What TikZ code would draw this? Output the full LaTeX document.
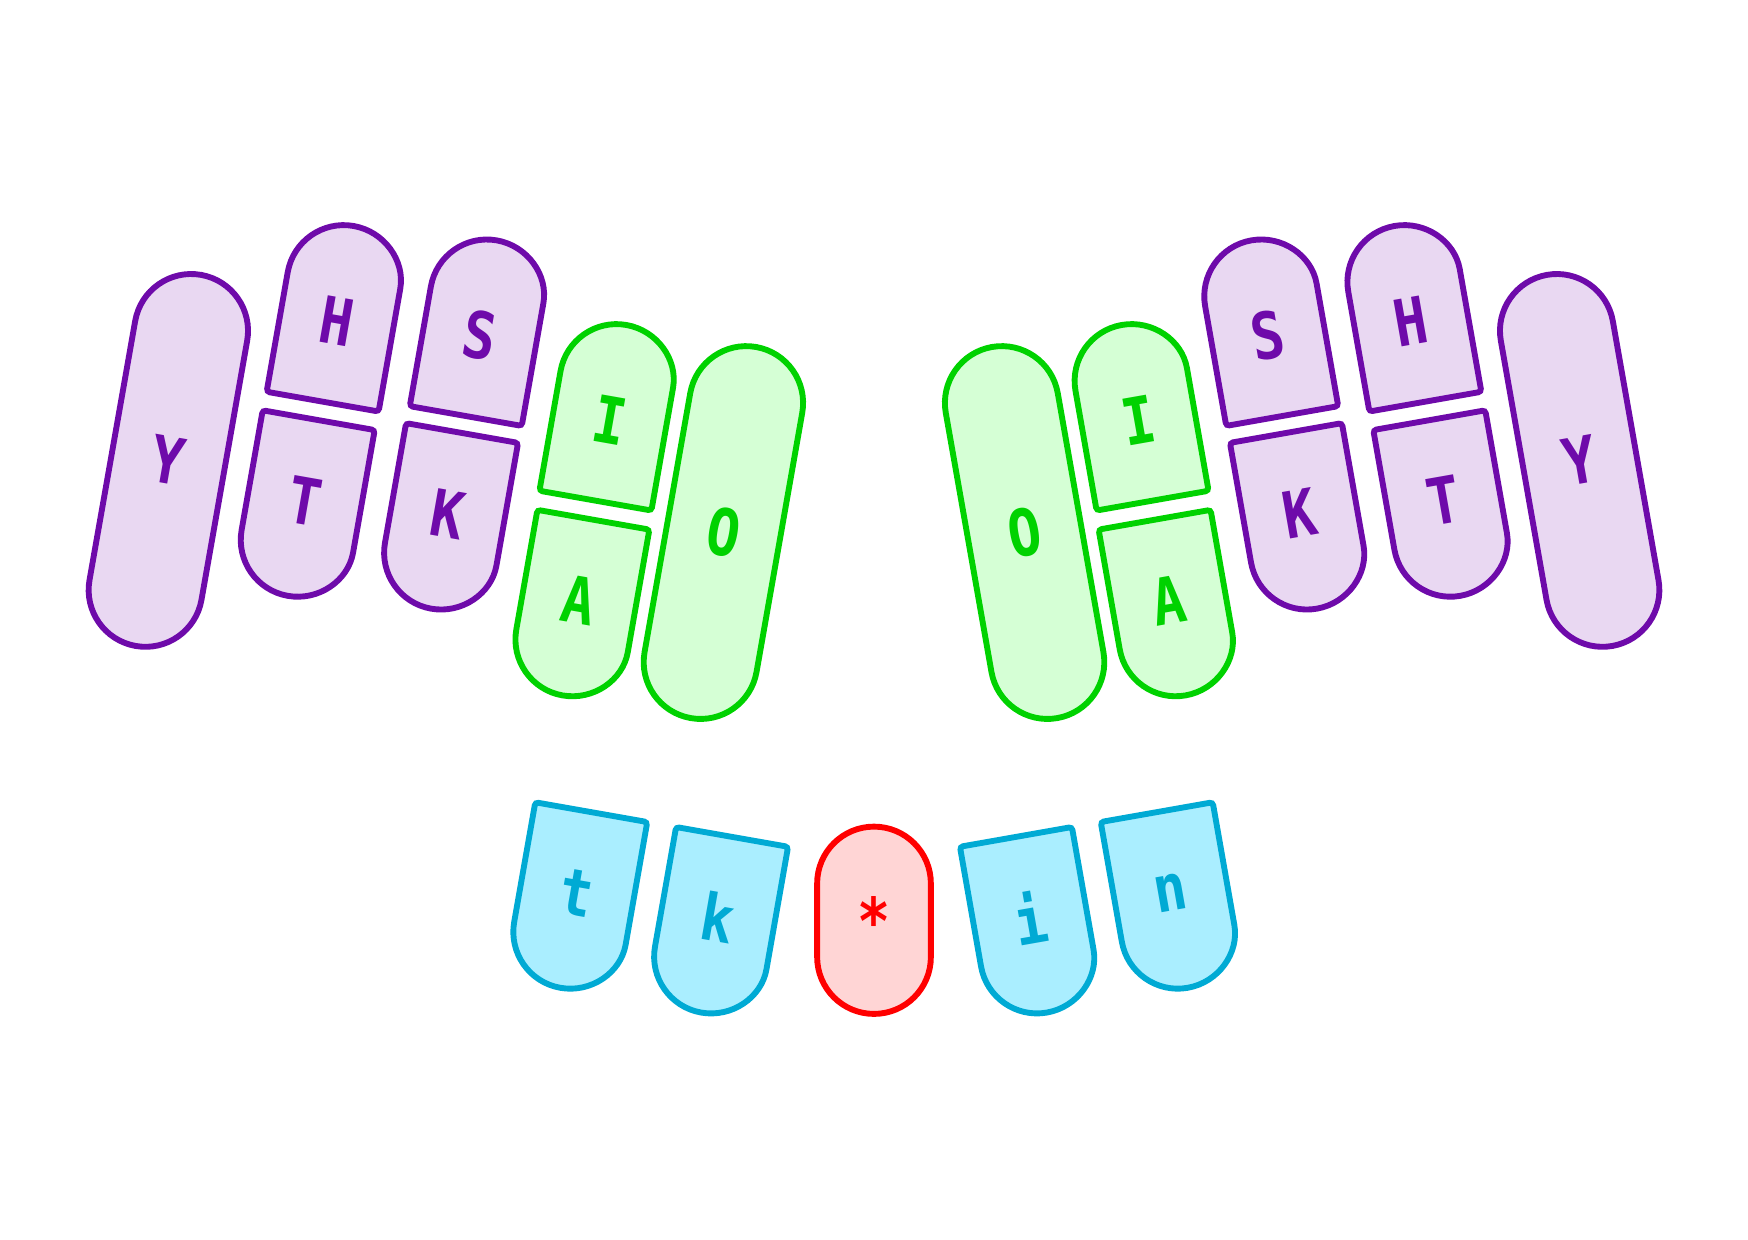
\documentclass[tikz,border=0pt]{standalone}
\usepackage{fontspec}
\newfontfamily\keyfont{DejaVu Sans Mono}[FakeStretch=0.85]
\definecolor{keypurple}{RGB}{110, 10, 170}
\definecolor{keylilac}{RGB}{233, 216, 242}
\definecolor{keygreen}{RGB}{0, 210, 0}
\definecolor{keymint}{RGB}{213, 255, 213}
\definecolor{keycyan}{RGB}{0, 170, 212}
\definecolor{keysky}{RGB}{170, 238, 255}
\definecolor{keyred}{RGB}{255, 0, 0}
\definecolor{keypink}{RGB}{255, 213, 213}
\usetikzlibrary{positioning}

% half keys: one round end, one flat end
\tikzset{
  pics/capup/.style={code={
    \path[#1] (0,-80) [rounded corners=0.8pt] -- (51,-80) -- (51,29)
      [sharp corners] arc[start angle=0, end angle=180, radius=51]
      [rounded corners=0.8pt] -- (-51,-80) -- cycle;
  }},
  pics/capdown/.style={code={
    \path[#1] (0,80) [rounded corners=0.8pt] -- (51,80) -- (51,-29)
      [sharp corners] arc[start angle=0, end angle=-180, radius=51]
      [rounded corners=0.8pt] -- (-51,80) -- cycle;
  }},
}

\begin{document}
\begin{tikzpicture}[
  x=0.1mm, y=0.1mm,
  purplekey/.style={draw=keypurple, fill=keylilac, line width=1.5pt},
  greenkey/.style={draw=keygreen, fill=keymint, line width=1.5pt},
  cyankey/.style={draw=keycyan, fill=keysky, line width=1.5pt},
  redkey/.style={draw=keyred, fill=keypink, line width=1.5pt},
  keylabel/.style={font=\keyfont\bfseries\fontsize{16.5}{16.5}\selectfont, inner sep=0pt},
  pillkey/.style={keylabel, rectangle, rounded corners=5.1mm, minimum width=10.2mm, minimum height=33.8mm}
]
  \path[fill=white] (0,0) rectangle (1568,1112);

  % left hand
  \node[pillkey, purplekey, text=keypurple, rotate=-10] (leftY) at (151,699) {Y};
  \pic[rotate=-10] at (303.3,830.5) {capup=purplekey};
  \node[keylabel, text=keypurple, rotate=-10] (leftH) at (302.2,824.1) {H};
  \pic[rotate=-10] at (272,656.3) {capdown=purplekey};
  \node[keylabel, text=keypurple, rotate=-10] (leftT) at (273.1,662.7) {T};
  \pic[rotate=-10] at (431.7,817.6) {capup=purplekey};
  \node[keylabel, text=keypurple, rotate=-10] (leftS) at (430.6,811.2) {S};
  \pic[rotate=-10] at (400.6,644.8) {capdown=purplekey};
  \node[keylabel, text=keypurple, rotate=-10] (leftK) at (401.7,651.2) {K};
  \pic[rotate=-10] at (548,741.7) {capup=greenkey};
  \node[keylabel, text=keygreen, rotate=-10] (leftI) at (546.9,735.3) {I};
  \pic[rotate=-10] at (518.4,567) {capdown=greenkey};
  \node[keylabel, text=keygreen, rotate=-10] (leftA) at (519.5,573.4) {A};
  \node[pillkey, greenkey, text=keygreen, rotate=-10] (leftO) at (648.9,634.3) {O};

  % right hand
  \node[pillkey, purplekey, text=keypurple, rotate=10] (rightY) at (1417,699) {Y};
  \pic[rotate=10] at (1264.7,830.5) {capup=purplekey};
  \node[keylabel, text=keypurple, rotate=10] (rightH) at (1265.8,824.1) {H};
  \pic[rotate=10] at (1296,656.3) {capdown=purplekey};
  \node[keylabel, text=keypurple, rotate=10] (rightT) at (1294.9,662.7) {T};
  \pic[rotate=10] at (1136.3,817.6) {capup=purplekey};
  \node[keylabel, text=keypurple, rotate=10] (rightS) at (1137.4,811.2) {S};
  \pic[rotate=10] at (1167.4,644.8) {capdown=purplekey};
  \node[keylabel, text=keypurple, rotate=10] (rightK) at (1166.3,651.2) {K};
  \pic[rotate=10] at (1020,741.7) {capup=greenkey};
  \node[keylabel, text=keygreen, rotate=10] (rightI) at (1021.1,735.3) {I};
  \pic[rotate=10] at (1049.6,567) {capdown=greenkey};
  \node[keylabel, text=keygreen, rotate=10] (rightA) at (1048.5,573.4) {A};
  \node[pillkey, greenkey, text=keygreen, rotate=10] (rightO) at (919.1,634.3) {O};

  % thumb row
  \pic[rotate=-10] at (516.5,304.7) {capdown=cyankey};
  \node[keylabel, text=keycyan, rotate=-10] (thumbt) at (517.6,311.1) {t};
  \pic[rotate=-10] at (642.8,282.5) {capdown=cyankey};
  \node[keylabel, text=keycyan, rotate=-10] (thumbk) at (643.9,288.9) {k};
  \node[pillkey, redkey, text=keyred, minimum height=16.8mm] (star) at (784,286.5) {*};
  \pic[rotate=10] at (925.2,282.5) {capdown=cyankey};
  \node[keylabel, text=keycyan, rotate=10] (thumbi) at (924.1,288.9) {i};
  \pic[rotate=10] at (1051.5,304.7) {capdown=cyankey};
  \node[keylabel, text=keycyan, rotate=10] (thumbn) at (1050.4,311.1) {n};
\end{tikzpicture}
\end{document}
